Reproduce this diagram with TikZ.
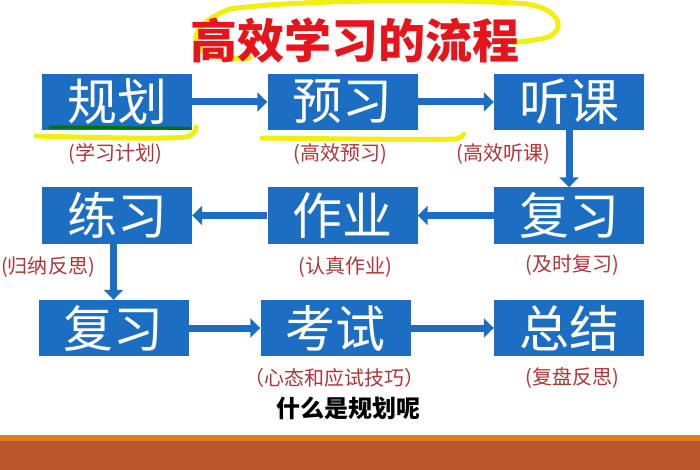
\documentclass[tikz,border=0pt]{standalone}
\usepackage{fontspec}
\newfontfamily\cjk{Noto Sans CJK SC}
\usetikzlibrary{arrows.meta}
\definecolor{bxblue}{HTML}{1B6EC2}
\definecolor{lbred}{HTML}{B0343A}
\definecolor{ttred}{HTML}{E8141C}
\definecolor{hlyel}{HTML}{F2EE10}
\definecolor{bdorg}{HTML}{E07E22}
\definecolor{bdbrn}{HTML}{B8582C}
\begin{document}
\begin{tikzpicture}[x=1pt,y=-1pt,bx/.style={minimum width=150pt,minimum height=56pt,inner sep=0pt,fill=bxblue,text=white,font=\cjk\fontsize{50}{50}\selectfont},lb/.style={text=lbred,font=\cjk\fontsize{20}{20}\selectfont},ar/.style={draw=bxblue,line width=7pt,-{Triangle[length=10pt,width=19pt]}},hl/.style={draw=hlyel,line width=5pt,line cap=round}]
\fill[white] (0,0) rectangle (700,470);
\useasboundingbox (0,0) rectangle (700,470);

\draw[hl] (250,58) .. controls (190,64) and (175,30) .. (230,9) .. controls (300,-1) and (470,-1) .. (527,4) .. controls (566,10) and (566,36) .. (540,39) .. controls (530,41) and (520,42) .. (512,42);
\node (tt) at (355,41) {\cjk\fontsize{47}{47}\selectfont\bfseries\color{ttred}高效学习的流程};

\node[bx] (gh) at (117,102) {规划};
\node[bx] (yx) at (342.5,102) {预习};
\node[bx] (tk) at (569,102) {听课};
\node[bx] (lx) at (117,215.5) {练习};
\node[bx] (zy) at (342.5,215.5) {作业};
\node[bx] (fx) at (569,215.5) {复习};
\node[bx] (fxb) at (113.5,328) {复习};
\node[bx] (ks) at (335.5,328) {考试};
\node[bx] (zj) at (569,328) {总结};

\draw[ar] (gh) -- (yx);
\draw[ar] (yx) -- (tk);
\draw[ar] (tk) -- (fx);
\draw[ar] (fx) -- (zy);
\draw[ar] (zy) -- (lx);
\draw[ar] (lx.south -| fxb.north) -- (fxb.north);
\draw[ar] (fxb) -- (ks);
\draw[ar] (ks) -- (zj);

\draw[green!45!black,line width=3pt,line cap=round] (50,127) -- (190,128.5);
\draw[hl] (36,136) .. controls (100,138) and (170,139) .. (186,137) .. controls (194,135) and (196,131) .. (196,127);
\draw[hl] (262,138) .. controls (350,139) and (430,140) .. (455,139) .. controls (461,138) and (463,136) .. (464,134);

\node[lb] (l1) at (115,154) {(学习计划)};
\node[lb] (l2) at (340,154) {(高效预习)};
\node[lb] (l3) at (503,154) {(高效听课)};
\node[lb] (l4) at (48,267) {(归纳反思)};
\node[lb] (l5) at (345,267) {(认真作业)};
\node[lb] (l6) at (572,265) {(及时复习)};
\node[lb] (l7) at (334,378) {（心态和应试技巧）};
\node[lb] (l8) at (572,378) {(复盘反思)};
\node (q) at (348,408) {\cjk\fontsize{24}{24}\selectfont\bfseries 什么是规划呢};

\fill[bdorg] (0,435) rectangle (700,441);
\fill[bdbrn] (0,441) rectangle (700,470);
\end{tikzpicture}
\end{document}
